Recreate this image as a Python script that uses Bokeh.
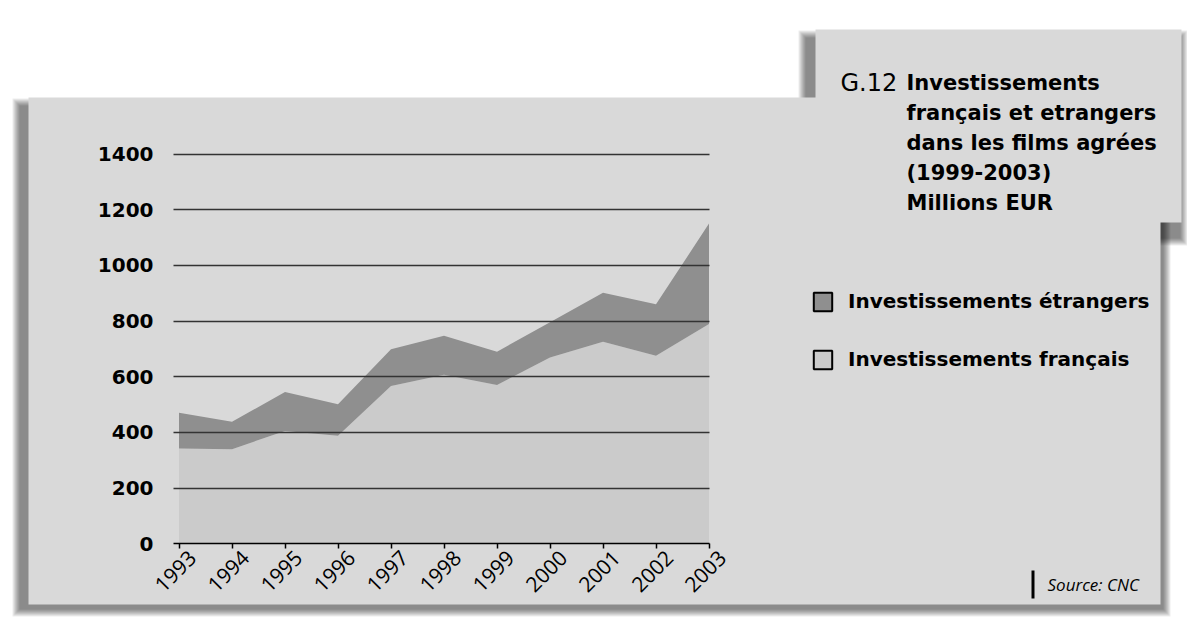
import math
from bokeh.plotting import figure
from bokeh.models import (Range1d, LinearAxis, FixedTicker, Grid, BoxAnnotation,
                          Label, Legend, LegendItem, ColumnDataSource, CustomJSTickFormatter)
from bokeh.embed import file_html
from bokeh.resources import INLINE

# ---------------- data ----------------
years = [1993, 1994, 1995, 1996, 1997, 1998, 1999, 2000, 2001, 2002, 2003]
francais = [342, 340, 405, 388, 567, 607, 570, 669, 726, 675, 789]
etrangers = [129, 98, 140, 113, 132, 140, 120, 127, 176, 185, 361]
y_ticks = [0, 200, 400, 600, 800, 1000, 1200, 1400]
title_number = "G.12"
title_lines = ["Investissements", "français et etrangers", "dans les films agrées",
               "(1999-2003)", "Millions EUR"]
legend_labels = ["Investissements étrangers", "Investissements français"]
source_text = "Source: CNC"

# ---------------- style / layout ----------------
W, H = 1187, 620
X0_PX, X_STEP = 178.5, 53.0          # canvas px of first year, px per year
Y0_PX, Y_PX_PER_UNIT = 543.3, 389.8 / 1400.0
PANEL = "#d9d9d9"
FR_COL = "#cbcbcb"
ET_COL = "#8f8f8f"
GRID_COL = "#333333"
LABEL_DX = 13.0 / X_STEP             # year labels sit a little right of their ticks

x_start = years[0] - X0_PX / X_STEP
x_end = x_start + W / X_STEP
y_end = Y0_PX / Y_PX_PER_UNIT
y_start = (Y0_PX - H) / Y_PX_PER_UNIT
gx0 = years[0] - 5.5 / X_STEP   # grid start

p = figure(width=W, height=H, x_range=Range1d(x_start, x_end), y_range=Range1d(y_start, y_end),
           x_axis_type=None, y_axis_type=None, min_border=0, toolbar_location=None,
           output_backend="svg", background_fill_color="white", border_fill_color="white",
           outline_line_color=None)


def cx(px):
    return px


def cy(py):
    return H - py


def box(l, r, t, b, color, alpha=1.0, level="image"):
    p.add_layout(BoxAnnotation(left=cx(l), right=cx(r), top=cy(t), bottom=cy(b),
                               left_units="screen", right_units="screen",
                               top_units="screen", bottom_units="screen",
                               fill_color=color, fill_alpha=alpha, line_color=None,
                               level=level))


def shadow(l, r, t, b, blur=7, alpha=0.07):
    for d in range(blur, -1, -1):
        box(l - d, r + d, t - d, b + d, "black", alpha)


shadow(805, 1180, 37, 238)
shadow(19, 1163, 105, 609)
box(28, 1160, 97, 604, PANEL)
box(815, 1181, 29, 222, PANEL)

# ---------------- areas ----------------
src = ColumnDataSource(dict(year=years, francais=francais, etrangers=etrangers))
rs = p.varea_stack(["francais", "etrangers"], x="year", color=[FR_COL, ET_COL], source=src)

# ---------------- axes & grid ----------------
xaxis = LinearAxis(fixed_location=0, ticker=FixedTicker(ticks=years), bounds=(gx0, years[-1]),
                   axis_line_color="black", axis_line_width=1.5,
                   major_tick_line_color="black", major_tick_line_width=1.5,
                   major_tick_in=0, major_tick_out=5, minor_tick_line_color=None,
                   major_label_text_color=None)
p.add_layout(xaxis, "below")

xlabels = LinearAxis(fixed_location=0, ticker=FixedTicker(ticks=[y + LABEL_DX for y in years]),
                     formatter=CustomJSTickFormatter(code="return Math.round(tick).toString()"),
                     axis_line_color=None, major_tick_line_color=None, minor_tick_line_color=None,
                     major_tick_in=0, major_tick_out=0,
                     major_label_orientation=math.pi / 4, major_label_standoff=10,
                     major_label_text_font="Open Sans", major_label_text_font_size="21px",
                     major_label_text_color="black")
p.add_layout(xlabels, "below")

yaxis = LinearAxis(fixed_location=gx0, ticker=FixedTicker(ticks=y_ticks),
                   axis_line_color=None, major_tick_line_color=None, minor_tick_line_color=None,
                   major_tick_in=0, major_tick_out=0, major_label_standoff=20,
                   major_label_text_font="DejaVu Sans", major_label_text_font_style="bold",
                   major_label_text_font_size="20px", major_label_text_color="black")
p.add_layout(yaxis, "left")

grid = Grid(dimension=1, ticker=FixedTicker(ticks=y_ticks[1:]), cross_bounds=(gx0, years[-1]),
            grid_line_color=GRID_COL, grid_line_width=1.5, level="guide")
p.add_layout(grid)

# ---------------- legend ----------------
nan = float("nan")
px_et = p.quad(left=[nan], right=[nan], top=[nan], bottom=[nan], fill_alpha=0,
               line_color="black", line_width=2)
px_fr = p.quad(left=[nan], right=[nan], top=[nan], bottom=[nan], fill_alpha=0,
               line_color="black", line_width=2)
legend = Legend(items=[LegendItem(label=legend_labels[0], renderers=[rs[1], px_et]),
                       LegendItem(label=legend_labels[1], renderers=[rs[0], px_fr])],
                location=(cx(811), cy(371)), padding=0, margin=0, spacing=34,
                glyph_width=23, glyph_height=23, label_height=23, label_standoff=14,
                label_text_font="DejaVu Sans", label_text_font_style="bold",
                label_text_font_size="20px", label_text_color="black",
                background_fill_alpha=0, border_line_color=None)
p.add_layout(legend)

# ---------------- title ----------------
p.add_layout(Label(x=cx(840), y=cy(82), x_units="screen", y_units="screen", text=title_number,
                   text_font="DejaVu Sans", text_font_size="24px", text_baseline="alphabetic",
                   text_color="black"))
for i, line in enumerate(title_lines):
    p.add_layout(Label(x=cx(906), y=cy(82 + 30 * i), x_units="screen", y_units="screen",
                       text=line, text_font="DejaVu Sans", text_font_style="bold",
                       text_font_size="21px", text_baseline="alphabetic", text_color="black"))

# ---------------- source ----------------
box(1031, 1034, 570, 598, "black", level="annotation")
p.add_layout(Label(x=cx(1047), y=cy(584), x_units="screen", y_units="screen", text=source_text,
                   text_font="Open Sans", text_font_style="italic", text_font_size="17px",
                   text_baseline="middle", text_color="black"))

open("out.html", "w").write(file_html(p, INLINE))
